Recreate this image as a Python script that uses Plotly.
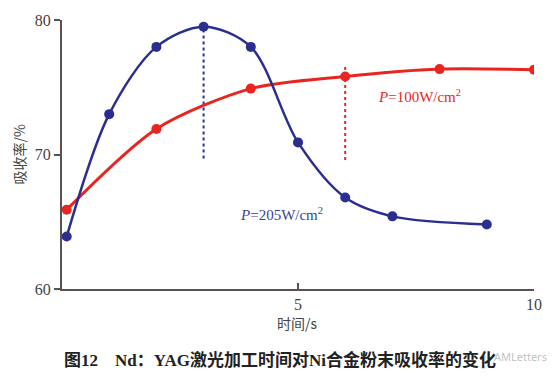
import plotly.graph_objects as go

# data
time_205 = [0.1, 1, 2, 3, 4, 5, 6, 7, 9]
absorb_205 = [63.9, 73.0, 78.0, 79.5, 78.0, 70.9, 66.8, 65.4, 64.8]
time_100 = [0.1, 2, 4, 6, 8, 10]
absorb_100 = [65.9, 71.9, 74.9, 75.8, 76.35, 76.3]
guide_205_x = [3, 3]
guide_205_y = [69.7, 79.5]
guide_100_x = [6, 6]
guide_100_y = [69.6, 76.7]
x_ticks = [5, 10]
y_ticks = [60, 70, 80]

BLUE = "#2a2f8f"
RED = "#e8261f"
AX = "#5a5250"
SERIF = "Liberation Serif, Times New Roman, serif"
CJK = "Noto Sans CJK SC, sans-serif"

fig = go.Figure()
fig.add_trace(go.Scatter(x=guide_205_x, y=guide_205_y, mode="lines",
                         line=dict(color=BLUE, width=2, dash="dot"), hoverinfo="skip"))
fig.add_trace(go.Scatter(x=guide_100_x, y=guide_100_y, mode="lines",
                         line=dict(color=RED, width=2, dash="dot"), hoverinfo="skip"))
fig.add_trace(go.Scatter(x=time_100, y=absorb_100, mode="lines+markers",
                         line=dict(color=RED, width=3, shape="spline", smoothing=0.8),
                         marker=dict(color=RED, size=10)))
fig.add_trace(go.Scatter(x=time_205, y=absorb_205, mode="lines+markers",
                         line=dict(color=BLUE, width=2.5, shape="spline", smoothing=0.9),
                         marker=dict(color=BLUE, size=10)))

fig.add_annotation(x=7.57, y=74.35, text="<i>P</i>=100W/cm<sup>2</sup>", showarrow=False,
                   font=dict(family=SERIF, size=15, color=RED))
fig.add_annotation(x=4.64, y=65.6, text="<i>P</i>=205W/cm<sup>2</sup>", showarrow=False,
                   font=dict(family=SERIF, size=15, color="#3a3f9a"))

fig.add_annotation(xref="paper", yref="paper", x=-0.093, y=0.5, xanchor="center",
                   text="吸收率/%", textangle=-90, showarrow=False,
                   font=dict(family=CJK, size=14, color="#444"))
fig.add_annotation(xref="paper", yref="paper", x=0.497, y=-0.08, yanchor="top",
                   text="时间/s", showarrow=False,
                   font=dict(family=CJK, size=14, color="#444"))
fig.add_annotation(xref="paper", yref="paper", x=0.0, y=-0.22, xanchor="left", yanchor="top",
                   text="<b>图12　Nd：YAG激光加工时间对Ni合金粉末吸收率的变化</b>", showarrow=False,
                   font=dict(family="Liberation Serif, Noto Sans CJK SC, serif", size=17, color="#222"))
fig.add_annotation(xref="paper", yref="paper", x=0.912, y=-0.215, xanchor="left", yanchor="top",
                   text="AMLetters", showarrow=False, opacity=0.6,
                   font=dict(family="Noto Sans", size=11, color="#999"))

fig.update_xaxes(range=[0, 10], tickvals=x_ticks, ticktext=[str(v) for v in x_ticks],
                 showline=True, linecolor=AX, linewidth=2, ticks="inside", ticklen=6,
                 tickwidth=1.5, tickcolor=AX, showgrid=False, zeroline=False,
                 tickfont=dict(family=SERIF, size=16, color="#444"))
fig.update_yaxes(range=[60, 80], tickvals=y_ticks,
                 showline=True, linecolor=AX, linewidth=2, ticks="outside", ticklen=6,
                 tickwidth=1.5, tickcolor=AX, showgrid=False, zeroline=False,
                 tickfont=dict(family=SERIF, size=16, color="#444"))

fig.update_layout(width=554, height=380, showlegend=False,
                  margin=dict(l=62, r=18, t=20, b=91),
                  plot_bgcolor="white", paper_bgcolor="white")
fig.write_html("out.html", config={"displayModeBar": False},
               post_script="document.body.style.margin='0';")
